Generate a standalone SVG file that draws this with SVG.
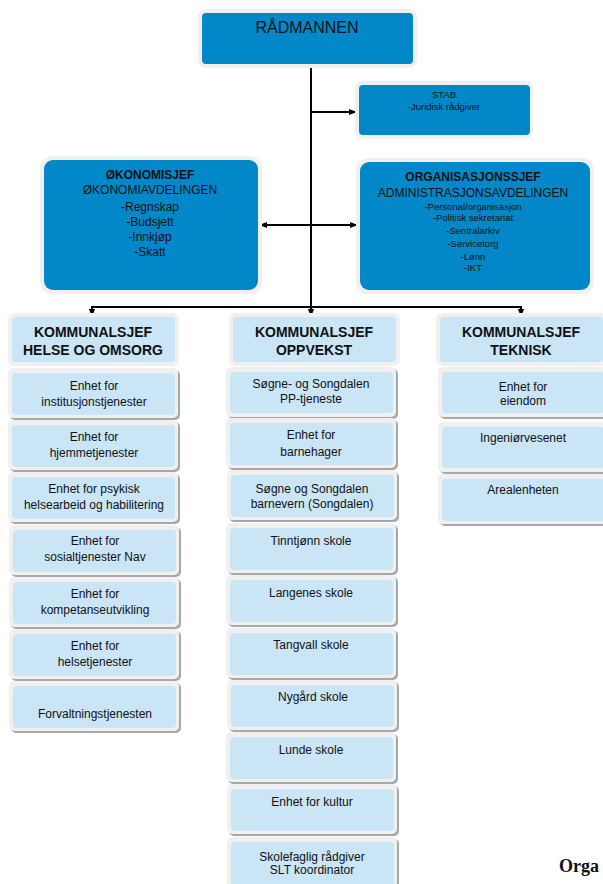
<svg xmlns="http://www.w3.org/2000/svg" width="603" height="884" viewBox="0 0 603 884">
<style>
text{font-family:"Liberation Sans",Arial,sans-serif;fill:#111;text-anchor:middle}
.ob{fill:#f0f0f0}
.db{fill:#0288c9}
.sh{fill:#a8a8a8}
.lb{fill:#c9e5f6}
.t16{font-size:16px}
.t14{font-size:14px;font-weight:bold}
.t11{font-size:12px}
.t12{font-size:12px}
.t12b{font-size:12px;font-weight:bold}
.t9{font-size:9.5px}
.ln{stroke:#000;stroke-width:2;fill:none}
</style>
<defs>
<marker id="ah" viewBox="0 0 10 10" refX="9" refY="5" markerWidth="4" markerHeight="4" orient="auto" markerUnits="strokeWidth">
<path d="M0,1 L10,5 L0,9 z" fill="#000"/>
</marker>
</defs>
<rect width="603" height="884" fill="#fff"/>

<g id="connectors">
<path class="ln" d="M311,68 V307"/>
<path class="ln" d="M311,112 H356" marker-end="url(#ah)"/>
<path class="ln" d="M311,225 H260" marker-end="url(#ah)"/>
<path class="ln" d="M311,225 H357" marker-end="url(#ah)"/>
<path class="ln" d="M92,307 H521"/>
<path class="ln" d="M92,306 V316" marker-end="url(#ah)"/>
<path class="ln" d="M311,306 V316" marker-end="url(#ah)"/>
<path class="ln" d="M521,306 V316" marker-end="url(#ah)"/>
</g>

<g id="radmannen">
<rect class="ob" x="198" y="9" width="219" height="59" rx="8"/>
<rect class="db" x="202" y="13" width="211" height="51" rx="4"/>
<text class="t16" x="307" y="33">RÅDMANNEN</text>
</g>

<g id="stab">
<rect class="ob" x="355" y="81" width="178" height="58" rx="8"/>
<rect class="db" x="359" y="85" width="171" height="50" rx="4"/>
<text class="t9" x="444" y="98">STAB</text>
<text class="t9" x="444" y="110">-Juridisk rådgiver</text>
</g>

<g id="okonomi">
<rect class="ob" x="40" y="156" width="222" height="138" rx="12"/>
<rect class="db" x="44" y="160" width="214" height="130" rx="9"/>
<text class="t12b" x="150" y="179">ØKONOMISJEF</text>
<text class="t12" x="150" y="194">ØKONOMIAVDELINGEN</text>
<text class="t12" x="150" y="211">-Regnskap</text>
<text class="t12" x="150" y="226">-Budsjett</text>
<text class="t12" x="150" y="241">-Innkjøp</text>
<text class="t12" x="150" y="256">-Skatt</text>
</g>

<g id="organisasjon">
<rect class="ob" x="356" y="158" width="238" height="136" rx="12"/>
<rect class="db" x="360" y="162" width="230" height="128" rx="9"/>
<text class="t12b" x="473" y="181">ORGANISASJONSSJEF</text>
<text class="t12" x="473" y="197">ADMINISTRASJONSAVDELINGEN</text>
<text class="t9" x="473" y="210">-Personal/organisasjon</text>
<text class="t9" x="473" y="221">-Politisk sekretariat</text>
<text class="t9" x="473" y="234">-Sentralarkiv</text>
<text class="t9" x="473" y="247">-Servicetorg</text>
<text class="t9" x="473" y="260">-Lønn</text>
<text class="t9" x="473" y="271">-IKT</text>
</g>

<g id="ks-helse">
<rect class="ob" x="8" y="313" width="171" height="53" rx="6"/>
<rect class="lb" x="12" y="317" width="163" height="45" rx="4"/>
<text class="t14" x="93" y="337">KOMMUNALSJEF</text>
<text class="t14" x="93" y="355">HELSE OG OMSORG</text>
</g>
<g id="ks-oppvekst">
<rect class="ob" x="229" y="313" width="171" height="53" rx="6"/>
<rect class="lb" x="233" y="317" width="163" height="45" rx="4"/>
<text class="t14" x="314" y="337">KOMMUNALSJEF</text>
<text class="t14" x="314" y="355">OPPVEKST</text>
</g>
<g id="ks-teknisk">
<rect class="ob" x="436" y="313" width="171" height="53" rx="6"/>
<rect class="lb" x="440" y="317" width="163" height="45" rx="4"/>
<text class="t14" x="521" y="337">KOMMUNALSJEF</text>
<text class="t14" x="521" y="355">TEKNISK</text>
</g>

<!-- left column -->
<g id="h1"><rect class="sh" x="10" y="370" width="170" height="50" rx="5"/><rect class="ob" x="8" y="368" width="170" height="50" rx="5"/><rect class="lb" x="12" y="373" width="163" height="42" rx="4"/>
<text class="t11" x="94" y="390">Enhet for</text><text class="t11" x="94" y="406">institusjonstjenester</text></g>
<g id="h2"><rect class="sh" x="10" y="422" width="170" height="50" rx="5"/><rect class="ob" x="8" y="420" width="170" height="50" rx="5"/><rect class="lb" x="12" y="425" width="163" height="42" rx="4"/>
<text class="t11" x="94" y="441">Enhet for</text><text class="t11" x="94" y="457">hjemmetjenester</text></g>
<g id="h3"><rect class="sh" x="10" y="474" width="170" height="50" rx="5"/><rect class="ob" x="8" y="472" width="170" height="50" rx="5"/><rect class="lb" x="12" y="477" width="163" height="42" rx="4"/>
<text class="t11" x="94" y="493">Enhet for psykisk</text><text class="t11" x="94" y="509">helsearbeid og habilitering</text></g>
<g id="h4"><rect class="sh" x="11" y="527" width="170" height="50" rx="5"/><rect class="ob" x="9" y="525" width="170" height="50" rx="5"/><rect class="lb" x="13" y="530" width="163" height="42" rx="4"/>
<text class="t11" x="95" y="545">Enhet for</text><text class="t11" x="95" y="561">sosialtjenester Nav</text></g>
<g id="h5"><rect class="sh" x="11" y="579" width="170" height="50" rx="5"/><rect class="ob" x="9" y="577" width="170" height="50" rx="5"/><rect class="lb" x="13" y="582" width="163" height="42" rx="4"/>
<text class="t11" x="95" y="598">Enhet for</text><text class="t11" x="95" y="614">kompetanseutvikling</text></g>
<g id="h6"><rect class="sh" x="11" y="631" width="170" height="50" rx="5"/><rect class="ob" x="9" y="629" width="170" height="50" rx="5"/><rect class="lb" x="13" y="634" width="163" height="42" rx="4"/>
<text class="t11" x="95" y="650">Enhet for</text><text class="t11" x="95" y="666">helsetjenester</text></g>
<g id="h7"><rect class="sh" x="11" y="683" width="170" height="50" rx="5"/><rect class="ob" x="9" y="681" width="170" height="50" rx="5"/><rect class="lb" x="13" y="686" width="163" height="42" rx="4"/>
<text class="t11" x="95" y="718">Forvaltningstjenesten</text></g>

<!-- middle column -->
<g id="o1"><rect class="sh" x="228" y="369" width="170" height="50" rx="5"/><rect class="ob" x="226" y="367" width="170" height="50" rx="5"/><rect class="lb" x="230" y="372" width="163" height="41" rx="4"/>
<text class="t11" x="311" y="388">Søgne- og Songdalen</text><text class="t11" x="311" y="403">PP-tjeneste</text></g>
<g id="o2"><rect class="sh" x="228" y="420" width="170" height="50" rx="5"/><rect class="ob" x="226" y="418" width="170" height="50" rx="5"/><rect class="lb" x="230" y="423" width="163" height="42" rx="4"/>
<text class="t11" x="311" y="439">Enhet for</text><text class="t11" x="311" y="456">barnehager</text></g>
<g id="o3"><rect class="sh" x="229" y="472" width="170" height="50" rx="5"/><rect class="ob" x="227" y="470" width="170" height="50" rx="5"/><rect class="lb" x="231" y="475" width="163" height="42" rx="4"/>
<text class="t11" x="312" y="493">Søgne og Songdalen</text><text class="t11" x="312" y="508">barnevern (Songdalen)</text></g>
<g id="o4"><rect class="sh" x="228" y="525" width="170" height="50" rx="5"/><rect class="ob" x="226" y="523" width="170" height="50" rx="5"/><rect class="lb" x="230" y="528" width="163" height="42" rx="4"/>
<text class="t11" x="311" y="545">Tinntjønn skole</text></g>
<g id="o5"><rect class="sh" x="228" y="577" width="170" height="50" rx="5"/><rect class="ob" x="226" y="575" width="170" height="50" rx="5"/><rect class="lb" x="230" y="580" width="163" height="42" rx="4"/>
<text class="t11" x="311" y="597">Langenes skole</text></g>
<g id="o6"><rect class="sh" x="228" y="630" width="170" height="50" rx="5"/><rect class="ob" x="226" y="628" width="170" height="50" rx="5"/><rect class="lb" x="230" y="633" width="163" height="42" rx="4"/>
<text class="t11" x="311" y="649">Tangvall skole</text></g>
<g id="o7"><rect class="sh" x="229" y="682" width="170" height="50" rx="5"/><rect class="ob" x="227" y="680" width="170" height="50" rx="5"/><rect class="lb" x="231" y="685" width="163" height="42" rx="4"/>
<text class="t11" x="313" y="701">Nygård skole</text></g>
<g id="o8"><rect class="sh" x="228" y="734" width="170" height="50" rx="5"/><rect class="ob" x="226" y="732" width="170" height="50" rx="5"/><rect class="lb" x="230" y="737" width="163" height="42" rx="4"/>
<text class="t11" x="311" y="754">Lunde skole</text></g>
<g id="o9"><rect class="sh" x="229" y="786" width="170" height="50" rx="5"/><rect class="ob" x="227" y="784" width="170" height="50" rx="5"/><rect class="lb" x="231" y="789" width="163" height="42" rx="4"/>
<text class="t11" x="312" y="806">Enhet for kultur</text></g>
<g id="o10"><rect class="sh" x="229" y="839" width="170" height="50" rx="5"/><rect class="ob" x="227" y="837" width="170" height="50" rx="5"/><rect class="lb" x="231" y="842" width="163" height="45" rx="4"/>
<text class="t11" x="312" y="861">Skolefaglig rådgiver</text><text class="t11" x="312" y="874">SLT koordinator</text></g>

<!-- right column -->
<g id="t1"><rect class="sh" x="440" y="369" width="170" height="50" rx="5"/><rect class="ob" x="438" y="367" width="170" height="50" rx="5"/><rect class="lb" x="442" y="372" width="163" height="41" rx="4"/>
<text class="t11" x="523" y="391">Enhet for</text><text class="t11" x="523" y="405">eiendom</text></g>
<g id="t2"><rect class="sh" x="440" y="424" width="170" height="50" rx="5"/><rect class="ob" x="438" y="422" width="170" height="50" rx="5"/><rect class="lb" x="442" y="427" width="163" height="41" rx="4"/>
<text class="t11" x="523" y="442">Ingeniørvesenet</text></g>
<g id="t3"><rect class="sh" x="440" y="476" width="170" height="50" rx="5"/><rect class="ob" x="438" y="474" width="170" height="50" rx="5"/><rect class="lb" x="442" y="479" width="163" height="42" rx="4"/>
<text class="t11" x="523" y="494">Arealenheten</text></g>

<text x="559" y="872" style="font-family:'Liberation Serif','Times New Roman',serif;font-size:18px;font-weight:bold;text-anchor:start">Orga</text>
</svg>
